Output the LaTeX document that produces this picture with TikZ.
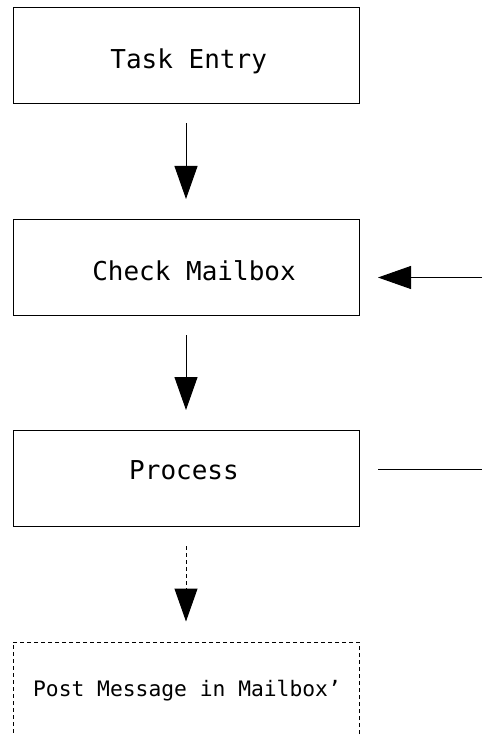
\documentclass[tikz,border=0pt]{standalone}
\usepackage{fontspec}
\newfontfamily\boxmono{DejaVu Sans Mono}
\usetikzlibrary{arrows.meta}
\tikzset{
  stage/.style={draw, line width=1pt, minimum width=346pt, minimum height=96pt, inner sep=0pt},
  future/.style={stage, dash pattern=on 4pt off 3pt},
  caption/.style={anchor=base, inner sep=0pt, font=\boxmono\fontsize{26}{30}\selectfont},
  smallcaption/.style={caption, font=\boxmono\fontsize{21.3}{26}\selectfont},
  flow/.style={line width=1pt, -{Triangle[length=33pt,width=23pt]}},
  gap/.style={shorten <=19pt, shorten >=20pt},
}
\begin{document}
\begin{tikzpicture}[x=1pt,y=-1pt]
\useasboundingbox (0,0) rectangle (482,735);
% boxes
\node[stage] (entry) at (186,56) {};
\node[stage] (check) at (186,267.5) {};
\node[stage] (proc) at (186,478.5) {};
\node[future] (post) at (186,690) {};
% their texts
\node[caption] (entryT) at (188.7,68.3) {Task Entry};
\node[caption] (checkT) at (194,280) {Check Mailbox};
\node[caption] (procT) at (184,479.3) {Process};
\node[smallcaption] (postT) at (187,696.7) {Post Message in Mailbox’};

% flow between the boxes
\draw[flow, gap] (entry.south) -- (check.north);
\draw[flow, gap] (check.south) -- (proc.north);
\draw[flow, gap, dash pattern=on 4pt off 3pt] (proc.south) -- (post.north);

% incoming and outgoing links at the right
\coordinate (inR) at (482,277.5);
\coordinate (inL) at (378,277.5);
\draw[flow] (inR) -- (inL);

\coordinate (outL) at (378,469);
\coordinate (outR) at (482,469);
\draw[line width=1pt] (outL) -- (outR);
\end{tikzpicture}
\end{document}
